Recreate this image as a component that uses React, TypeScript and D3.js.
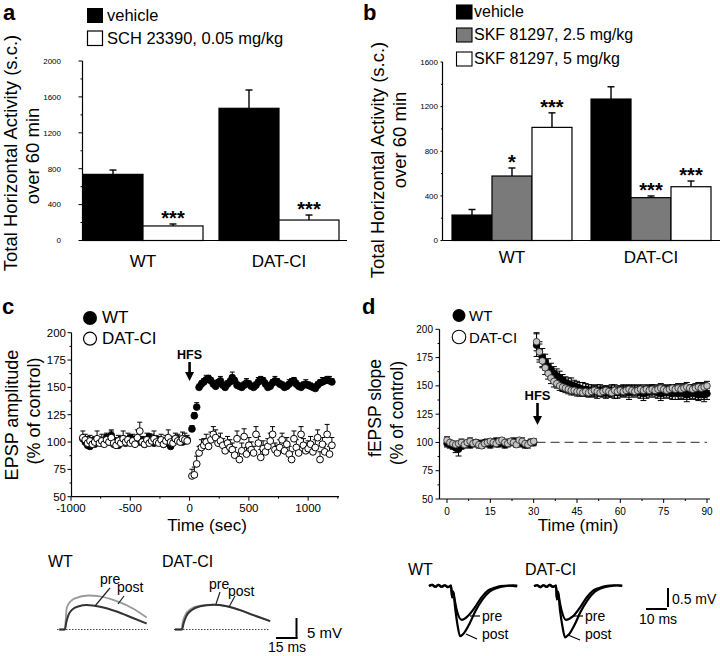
import React from 'react';
import * as d3 from 'd3';

const FONT = '"Liberation Sans", Arial, Helvetica, sans-serif';

// ---------------- Panel a ----------------
const groupsA = ['WT', 'DAT-CI'];
const vehicleA = [737, 1473];
const vehicleAErr = [48, 204];
const schA = [162, 228];
const schAErr = [22, 56];
const schASig = ['***', '***'];
const ticksA = [0, 400, 800, 1200, 1600, 2000];
const minorTicksA = [200, 600, 1000, 1400, 1800];

// ---------------- Panel b ----------------
const groupsB = ['WT', 'DAT-CI'];
const vehicleB = [228, 1268];
const vehicleBErr = [50, 110];
const skf25B = [578, 384];
const skf25BErr = [72, 15];
const skf25BSig = ['*', '***'];
const skf5B = [1014, 482];
const skf5BErr = [130, 51];
const skf5BSig = ['***', '***'];
const ticksB = [0, 400, 800, 1200, 1600];
const minorTicksB = [200, 600, 1000, 1400];

// ---------------- Panel c ----------------
const timeC = [
  -900, -880, -860, -840, -820, -800, -780, -760, -740, -720, -700, -680, -660, -640, -620,
  -600, -580, -560, -540, -520, -500, -480, -460, -440, -420, -400, -380, -360, -340, -320,
  -300, -280, -260, -240, -220, -200, -180, -160, -140, -120, -100, -80, -60, -40, -20,
  20, 40, 60, 80, 100, 120, 140, 160, 180, 200, 220, 240, 260, 280, 300,
  320, 340, 360, 380, 400, 420, 440, 460, 480, 500, 520, 540, 560, 580, 600,
  620, 640, 660, 680, 700, 720, 740, 760, 780, 800, 820, 840, 860, 880, 900,
  920, 940, 960, 980, 1000, 1020, 1040, 1060, 1080, 1100, 1120, 1140, 1160, 1180, 1200,
];
const wtC = [
  103, 100, 97, 96, 101, 98, 100, 102, 99, 101, 104, 100, 106, 98, 101,
  97, 100, 103, 99, 101, 104, 102, 99, 103, 100, 101, 98, 102, 105, 101,
  99, 103, 100, 101, 98, 99, 100, 96, 100, 102, 103, 102, 100, 101, 102,
  112, 124, 132, 150, 153, 155, 157, 158, 156, 153, 151, 154, 156, 152, 150,
  153, 155, 159, 156, 152, 151, 150, 152, 154, 153, 151, 150, 152, 155, 157,
  156, 153, 150, 151, 154, 156, 155, 153, 152, 150, 151, 153, 155, 156, 153,
  151, 150, 152, 153, 152, 151, 150, 149, 152, 154, 155, 156, 157, 156, 155,
];
const wtErrC = [
  2, 2, 3, 2, 2, 3, 2, 2, 4, 2, 3, 2, 4, 2, 2,
  2, 3, 2, 2, 4, 2, 3, 2, 2, 3, 2, 2, 3, 2, 2,
  3, 2, 2, 3, 2, 2, 2, 3, 2, 2, 2, 3, 2, 2, 2,
  3, 3, 4, 3, 3, 3, 4, 3, 3, 3, 3, 3, 4, 3, 3,
  3, 3, 5, 3, 3, 3, 3, 3, 4, 3, 3, 3, 3, 4, 3,
  3, 3, 3, 3, 3, 4, 3, 3, 3, 3, 3, 4, 3, 3, 3,
  3, 3, 3, 4, 3, 3, 3, 3, 3, 3, 4, 3, 3, 4, 3,
];
const datC = [
  104, 102, 99, 101, 98, 100, 103, 99, 101, 98, 102, 100, 104, 99, 97,
  101, 99, 103, 100, 102, 99, 101, 98, 104, 110, 100, 98, 102, 99, 101,
  103, 100, 99, 102, 98, 101, 104, 100, 99, 103, 101, 100, 103, 102, 101,
  69, 70, 80, 90, 95, 97, 100, 96, 102, 107, 104, 99, 101, 97, 92,
  99, 95, 93, 88, 103, 84, 92, 105, 89, 97, 93, 90, 107, 99, 86,
  94, 91, 96, 101, 107, 93, 90, 95, 102, 92, 98, 89, 84, 103, 95,
  90, 107, 97, 92, 94, 98, 91, 95, 104, 84, 98, 91, 107, 89, 97,
];
const datErrC = [
  3, 2, 3, 2, 3, 2, 4, 2, 3, 2, 3, 2, 4, 2, 3,
  2, 3, 4, 2, 3, 2, 3, 2, 4, 5, 2, 3, 3, 2, 3,
  4, 2, 3, 2, 3, 2, 4, 2, 3, 2, 3, 2, 3, 3, 2,
  3, 4, 4, 3, 4, 3, 4, 3, 4, 4, 4, 3, 4, 3, 4,
  3, 4, 3, 4, 4, 3, 4, 4, 3, 4, 4, 3, 4, 3, 4,
  4, 3, 4, 4, 4, 3, 4, 4, 3, 4, 3, 4, 4, 4, 4,
  3, 4, 3, 4, 4, 4, 3, 4, 4, 4, 3, 4, 6, 4, 4,
];
const ticksCY = [50, 75, 100, 125, 150, 175, 200];
const minorCY = [62.5, 87.5, 112.5, 137.5, 162.5, 187.5];
const ticksCX = [-1000, -500, 0, 500, 1000];
const minorCX = [-750, -250, 250, 750, 1250];

// ---------------- Panel d ----------------
const timeD = [
  0, 1, 2, 3, 4, 5, 6, 7, 8, 9, 10, 11, 12, 13, 14, 15, 16, 17, 18, 19, 20,
  21, 22, 23, 24, 25, 26, 27, 28, 29, 30,
  31, 32, 33, 34, 35, 36, 37, 38, 39, 40, 41, 42, 43, 44, 45, 46, 47, 48, 49, 50,
  51, 52, 53, 54, 55, 56, 57, 58, 59, 60, 61, 62, 63, 64, 65, 66, 67, 68, 69, 70,
  71, 72, 73, 74, 75, 76, 77, 78, 79, 80, 81, 82, 83, 84, 85, 86, 87, 88, 89, 90,
];
const wtD = [
  99, 98, 97, 95, 94, 97, 98, 99, 98, 99, 100, 99, 98, 100, 99, 98, 100, 101, 99, 100,
  98, 99, 100, 101, 99, 100, 99, 98, 99, 100, 100,
  186, 180, 175, 171, 167, 164, 161, 159, 157, 155, 153, 152, 151, 150, 149, 148, 147, 147, 146, 146,
  145, 145, 146, 145, 144, 145, 146, 145, 144, 145, 146, 145, 144, 145, 146, 145, 144, 143, 144, 145,
  146, 145, 144, 143, 144, 145, 144, 143, 144, 143, 144, 143, 142, 143, 144, 143, 142, 143, 142, 143,
];
const wtErrD = [
  3, 3, 3, 4, 6, 3, 3, 2, 3, 3, 2, 3, 3, 2, 3, 3, 2, 3, 3, 2,
  3, 3, 2, 3, 3, 2, 3, 3, 2, 3, 3,
  10, 9, 8, 7, 7, 6, 6, 6, 6, 5, 5, 5, 6, 5, 5, 5, 6, 5, 5, 5,
  5, 6, 5, 5, 5, 5, 5, 6, 5, 5, 5, 5, 6, 5, 5, 5, 5, 6, 5, 5,
  5, 5, 5, 6, 5, 5, 5, 5, 6, 5, 5, 5, 6, 5, 5, 5, 5, 5, 6, 5,
];
const datD = [
  102, 100, 99, 98, 99, 100, 98, 100, 101, 99, 100, 98, 97, 99, 100, 101, 100, 99, 101, 102,
  100, 99, 101, 100, 98, 102, 101, 99, 98, 100, 101,
  189, 180, 172, 166, 161, 157, 154, 152, 150, 149, 148, 147, 146, 146, 145, 145, 144, 145, 144, 145,
  146, 145, 144, 145, 146, 145, 144, 146, 145, 146, 145, 146, 147, 146, 145, 146, 147, 146, 147, 146,
  147, 146, 147, 148, 147, 146, 147, 148, 147, 148, 147, 148, 149, 148, 147, 148, 149, 148, 149, 150,
];
const datErrD = [
  3, 2, 2, 3, 2, 3, 2, 2, 3, 2, 2, 3, 2, 2, 3, 2, 2, 3, 2, 2,
  3, 2, 2, 3, 2, 2, 3, 2, 3, 2, 2,
  8, 7, 6, 6, 5, 5, 5, 4, 4, 4, 4, 4, 4, 4, 4, 4, 3, 4, 4, 4,
  4, 4, 3, 4, 4, 4, 4, 4, 3, 4, 4, 4, 4, 4, 3, 4, 4, 4, 4, 4,
  4, 3, 4, 4, 4, 4, 4, 3, 4, 4, 4, 4, 4, 3, 4, 4, 4, 4, 4, 4,
];
const ticksDY = [50, 75, 100, 125, 150, 175, 200];
const minorDY = [62.5, 87.5, 112.5, 137.5, 162.5, 187.5];
const ticksDX = [0, 15, 30, 45, 60, 75, 90];
const minorDX = [7.5, 22.5, 37.5, 52.5, 67.5, 82.5];
const hfsTimeD = 31;

// ---------------- Example traces (ms, mV) ----------------
const wtPreC = [[0, 0], [4, 0], [5, 1.8], [6.5, 3.6], [9, 4.9], [14, 5.8], [19.5, 6.1], [29, 5.7], [41, 4.5], [53, 2.8], [62.4, 1.5]];
const wtPostC = [[0, 0], [4, 0], [4.6, 2.5], [5.3, 5.4], [8, 7], [11.2, 7.8], [20.7, 8.5], [29, 8.3], [41, 7.1], [52.9, 5.2], [62.4, 3]];
const datPreC = [[0, 0], [5, 0], [6.2, 1.6], [8, 3.3], [12, 4.9], [18, 5.8], [27.4, 6.2], [36, 5.9], [46, 4.9], [56, 3.6], [68, 2.1]];
const datPostC = [[0, 0], [4.6, 0], [5.5, 1.8], [7.3, 3.6], [11, 5.1], [17, 5.9], [27, 6.2], [36, 5.9], [46, 4.9], [56, 3.6], [68, 2.1]];

const wtPreD = [[0, 0], [1.5, 0.03], [3, -0.02], [4.5, 0.03], [6, -0.02], [7.5, 0.02], [9, -0.03], [10.5, 0.01], [11, -0.3], [11.5, -0.15], [12.2, -0.35], [13.2, -0.63], [15.6, -0.89], [18.5, -0.79], [22, -0.55], [25, -0.3], [28, -0.12], [31, -0.05], [34, 0], [38, 0.01], [42, -0.01]];
const wtPostD = [[0, 0], [1.5, 0.03], [3, -0.02], [4.5, 0.03], [6, -0.02], [7.5, 0.02], [9, -0.03], [10.5, 0.01], [11, -0.3], [11.5, -0.15], [12.5, -0.6], [13.5, -1.0], [14.8, -1.32], [16.5, -1.25], [19.5, -0.97], [22, -0.67], [25.5, -0.35], [29, -0.14], [32.5, -0.05], [37, 0], [40, 0.02], [42, 0.01]];
const datPreD = [[0, 0], [1.5, 0.02], [3, -0.03], [4.5, 0.02], [6, -0.02], [7.5, 0.03], [9, -0.02], [10.5, 0.01], [10.9, -0.35], [11.4, -0.15], [12.2, -0.4], [13.2, -0.66], [15.2, -0.89], [18.5, -0.8], [22, -0.56], [25, -0.31], [28, -0.13], [31, -0.05], [34, 0], [38, 0.02], [42, 0]];
const datPostD = [[0, 0], [1.5, 0.02], [3, -0.03], [4.5, 0.02], [6, -0.02], [7.5, 0.03], [9, -0.02], [10.5, 0.01], [10.9, -0.35], [11.4, -0.15], [12.4, -0.65], [13.5, -1.05], [14.8, -1.35], [16.5, -1.28], [19.5, -1.0], [22, -0.7], [25.5, -0.37], [29, -0.15], [32.5, -0.05], [37, 0], [40, 0.02], [42, 0.01]];

// ---------------- helpers ----------------
type Series = { name: string; values: number[]; errs: number[]; sig: string[] | null; fill: string };

function Bars({ groups, series, xo, y }: { groups: string[]; series: Series[]; xo: d3.ScaleBand<string>; y: d3.ScaleLinear<number, number> }) {
  const xi = d3.scaleBand<string>().domain(series.map((s) => s.name)).range([0, xo.bandwidth()]);
  return (
    <g>
      {groups.map((g, gi) =>
        series.map((s) => {
          const x = (xo(g) as number) + (xi(s.name) as number);
          const w = xi.bandwidth();
          const v = s.values[gi];
          const e = s.errs[gi];
          const cx = x + w / 2;
          const yTop = y(v + e);
          return (
            <g key={g + s.name}>
              <line x1={cx} x2={cx} y1={y(v)} y2={yTop} stroke="#000" strokeWidth={1.4} />
              <line x1={cx - 3.5} x2={cx + 3.5} y1={yTop} y2={yTop} stroke="#000" strokeWidth={1.4} />
              <rect x={x} y={y(v)} width={w} height={y(0) - y(v)} fill={s.fill} stroke="#000" strokeWidth={1.2} />
              {s.sig && s.sig[gi] ? (
                <text x={cx} y={yTop + 1} textAnchor="middle" fontSize={20} fontWeight="bold">
                  {s.sig[gi]}
                </text>
              ) : null}
            </g>
          );
        })
      )}
    </g>
  );
}

function YAxis({ x, y, ticks, minor, labelEnd, fontSize, fmt, tickLen = 4, minorLen = 2 }: any) {
  const [r0, r1] = y.range();
  return (
    <g>
      <line x1={x} x2={x} y1={r0} y2={r1} stroke="#000" strokeWidth={1.2} />
      {ticks.map((t: number) => (
        <line key={'t' + t} x1={x - tickLen} x2={x} y1={y(t)} y2={y(t)} stroke="#000" strokeWidth={1} />
      ))}
      {minor.map((t: number) => (
        <line key={'m' + t} x1={x - minorLen} x2={x} y1={y(t)} y2={y(t)} stroke="#000" strokeWidth={1} />
      ))}
      {ticks.map((t: number) => (
        <text key={'l' + t} x={labelEnd} y={y(t)} dy="0.35em" textAnchor="end" fontSize={fontSize}>
          {fmt ? fmt(t) : t}
        </text>
      ))}
    </g>
  );
}

function XAxisLin({ y0, x, ticks, minor, x1, x2, fontSize, labelY, tickLen = 4, minorLen = 2 }: any) {
  return (
    <g>
      <line x1={x1} x2={x2} y1={y0} y2={y0} stroke="#000" strokeWidth={1.2} />
      {ticks.map((t: number) => (
        <line key={'t' + t} x1={x(t)} x2={x(t)} y1={y0} y2={y0 + tickLen} stroke="#000" strokeWidth={1} />
      ))}
      {minor.map((t: number) => (
        <line key={'m' + t} x1={x(t)} x2={x(t)} y1={y0} y2={y0 + minorLen} stroke="#000" strokeWidth={1} />
      ))}
      {ticks.map((t: number) => (
        <text key={'l' + t} x={x(t)} y={labelY} textAnchor="middle" fontSize={fontSize}>
          {t < 0 ? '-' + Math.abs(t) : t}
        </text>
      ))}
    </g>
  );
}

function RotText({ x, y, size, children }: any) {
  return (
    <text transform={`translate(${x},${y}) rotate(-90)`} textAnchor="middle" fontSize={size}>
      {children}
    </text>
  );
}

function Arrow({ x, y1, y2 }: { x: number; y1: number; y2: number }) {
  return (
    <g>
      <line x1={x} x2={x} y1={y1} y2={y2 - 7} stroke="#000" strokeWidth={2.6} />
      <polygon points={`${x - 4.5},${y2 - 9} ${x + 4.5},${y2 - 9} ${x},${y2}`} fill="#000" />
    </g>
  );
}

// ---------------- panels ----------------
function PanelA() {
  const y = d3.scaleLinear().domain([0, 2000]).range([240.5, 61]);
  const xo = d3.scaleBand<string>().domain(groupsA).range([83, 339]).paddingInner(0.1176).paddingOuter(0);
  const series: Series[] = [
    { name: 'vehicle', values: vehicleA, errs: vehicleAErr, sig: null, fill: '#000' },
    { name: 'SCH 23390, 0.05 mg/kg', values: schA, errs: schAErr, sig: schASig, fill: '#fff' },
  ];
  return (
    <g>
      <text x={3} y={20} fontSize={22} fontWeight="bold">a</text>
      <rect x={87} y={8} width={16} height={15} fill="#000" />
      <text x={107} y={21} fontSize={16.5}>{series[0].name}</text>
      <rect x={87.5} y={31} width={15} height={14.5} fill="#fff" stroke="#000" strokeWidth={1.2} />
      <text x={107} y={44} fontSize={16.5}>{series[1].name}</text>
      <Bars groups={groupsA} series={series} xo={xo} y={y} />
      <YAxis x={82.5} y={y} ticks={ticksA} minor={minorTicksA} labelEnd={61} fontSize={8} tickLen={4} minorLen={2} />
      <line x1={82.5} x2={347} y1={240.5} y2={240.5} stroke="#000" strokeWidth={1.2} />
      {groupsA.map((g) => (
        <text key={g} x={(xo(g) as number) + xo.bandwidth() / 2} y={267} textAnchor="middle" fontSize={17}>{g}</text>
      ))}
      <RotText x={16.5} y={153} size={18.5}>Total Horizontal Activity (s.c.)</RotText>
      <RotText x={39} y={156} size={18.5}>over 60 min</RotText>
    </g>
  );
}

function PanelB() {
  const y = d3.scaleLinear().domain([0, 1600]).range([240.5, 62]);
  const xo = d3.scaleBand<string>().domain(groupsB).range([452, 711]).paddingInner(0.137).paddingOuter(0);
  const series: Series[] = [
    { name: 'vehicle', values: vehicleB, errs: vehicleBErr, sig: null, fill: '#000' },
    { name: 'SKF 81297, 2.5 mg/kg', values: skf25B, errs: skf25BErr, sig: skf25BSig, fill: '#7a7a7a' },
    { name: 'SKF 81297, 5 mg/kg', values: skf5B, errs: skf5BErr, sig: skf5BSig, fill: '#fff' },
  ];
  const legY = [5, 28, 52];
  return (
    <g>
      <text x={363} y={20} fontSize={22} fontWeight="bold">b</text>
      {series.map((s, i) => (
        <g key={s.name}>
          <rect x={456.5} y={legY[i]} width={15.5} height={14} fill={s.fill} stroke="#000" strokeWidth={1.1} />
          <text x={474} y={legY[i] + 12} fontSize={16}>{s.name}</text>
        </g>
      ))}
      <Bars groups={groupsB} series={series} xo={xo} y={y} />
      <YAxis x={442.5} y={y} ticks={ticksB} minor={minorTicksB} labelEnd={438} fontSize={8} tickLen={2} minorLen={1.5} />
      <line x1={442.5} x2={720} y1={240.5} y2={240.5} stroke="#000" strokeWidth={1.2} />
      {groupsB.map((g) => (
        <text key={g} x={(xo(g) as number) + xo.bandwidth() / 2} y={263} textAnchor="middle" fontSize={17}>{g}</text>
      ))}
      <RotText x={384} y={160} size={18.5}>Total Horizontal Activity (s.c.)</RotText>
      <RotText x={406} y={140} size={18.5}>over 60 min</RotText>
    </g>
  );
}

function PanelC() {
  const x = d3.scaleLinear().domain([-1000, 1260]).range([71, 339]);
  const y = d3.scaleLinear().domain([50, 200]).range([496.7, 332.7]);
  const r = 3.4;
  return (
    <g>
      <text x={2} y={314} fontSize={22} fontWeight="bold">c</text>
      <circle cx={90} cy={318} r={7} fill="#000" />
      <text x={102} y={323} fontSize={17}>WT</text>
      <circle cx={90} cy={338.7} r={6.5} fill="#fff" stroke="#000" strokeWidth={1.2} />
      <text x={102} y={344} fontSize={17}>DAT-CI</text>
      <YAxis x={71.5} y={y} ticks={ticksCY} minor={minorCY} labelEnd={66} fontSize={11.5} />
      <XAxisLin y0={496.7} x={x} ticks={ticksCX} minor={minorCX} x1={71.5} x2={339} fontSize={11.5} labelY={512} />
      {timeC.map((t, i) => (
        <g key={'we' + i}>
          <line x1={x(t)} x2={x(t)} y1={y(wtC[i])} y2={y(wtC[i] + wtErrC[i])} stroke="#000" strokeWidth={1} />
          <line x1={x(t) - 2.5} x2={x(t) + 2.5} y1={y(wtC[i] + wtErrC[i])} y2={y(wtC[i] + wtErrC[i])} stroke="#000" strokeWidth={1} />
        </g>
      ))}
      {timeC.map((t, i) => (
        <circle key={'w' + i} cx={x(t)} cy={y(wtC[i])} r={r} fill="#000" stroke="#000" strokeWidth={0.8} />
      ))}
      {timeC.map((t, i) => (
        <g key={'de' + i}>
          <line x1={x(t)} x2={x(t)} y1={y(datC[i]) - r} y2={y(datC[i] + datErrC[i]) - r} stroke="#000" strokeWidth={1} />
          <line x1={x(t) - 2.5} x2={x(t) + 2.5} y1={y(datC[i] + datErrC[i]) - r} y2={y(datC[i] + datErrC[i]) - r} stroke="#000" strokeWidth={1} />
        </g>
      ))}
      {timeC.map((t, i) => (
        <circle key={'d' + i} cx={x(t)} cy={y(datC[i])} r={r} fill="#fff" stroke="#000" strokeWidth={1} />
      ))}
      <text x={x(0)} y={359} textAnchor="middle" fontSize={12.5} fontWeight="bold">HFS</text>
      <Arrow x={x(0)} y1={362} y2={381} />
      <RotText x={18} y={415} size={18}>EPSP amplitude</RotText>
      <RotText x={40} y={411} size={18}>(% of control)</RotText>
      <text x={207} y={531} textAnchor="middle" fontSize={17}>Time (sec)</text>
    </g>
  );
}

function PanelD() {
  const x = d3.scaleLinear().domain([0, 90]).range([447, 707]);
  const y = d3.scaleLinear().domain([50, 200]).range([499, 329.3]);
  const r = 3.3;
  return (
    <g>
      <text x={362} y={314} fontSize={22} fontWeight="bold">d</text>
      <circle cx={459} cy={315.5} r={6.5} fill="#000" />
      <text x={469} y={320.5} fontSize={15}>WT</text>
      <circle cx={459} cy={337} r={6.8} fill="#fff" stroke="#000" strokeWidth={1.1} />
      <text x={469} y={343} fontSize={15}>DAT-CI</text>
      <YAxis x={439.5} y={y} ticks={ticksDY} minor={minorDY} labelEnd={433} fontSize={10} />
      <XAxisLin y0={499} x={x} ticks={ticksDX} minor={minorDX} x1={439.5} x2={710} fontSize={10} labelY={515} />
      <line x1={x(hfsTimeD)} x2={x(90)} y1={y(100)} y2={y(100)} stroke="#555" strokeWidth={1.3} strokeDasharray="9 5" />
      {timeD.map((t, i) => (
        <g key={'we' + i}>
          <line x1={x(t)} x2={x(t)} y1={y(wtD[i] - wtErrD[i])} y2={y(wtD[i] + wtErrD[i])} stroke="#000" strokeWidth={1} />
          <line x1={x(t) - 3} x2={x(t) + 3} y1={y(wtD[i] + wtErrD[i])} y2={y(wtD[i] + wtErrD[i])} stroke="#000" strokeWidth={1} />
          <line x1={x(t) - 3} x2={x(t) + 3} y1={y(wtD[i] - wtErrD[i])} y2={y(wtD[i] - wtErrD[i])} stroke="#000" strokeWidth={1} />
          <line x1={x(t)} x2={x(t)} y1={y(datD[i] - datErrD[i])} y2={y(datD[i] + datErrD[i])} stroke="#000" strokeWidth={1} />
          <line x1={x(t) - 3} x2={x(t) + 3} y1={y(datD[i] + datErrD[i])} y2={y(datD[i] + datErrD[i])} stroke="#000" strokeWidth={1} />
          <line x1={x(t) - 3} x2={x(t) + 3} y1={y(datD[i] - datErrD[i])} y2={y(datD[i] - datErrD[i])} stroke="#000" strokeWidth={1} />
        </g>
      ))}
      {timeD.map((t, i) => (
        <circle key={'w' + i} cx={x(t)} cy={y(wtD[i])} r={r} fill="#000" stroke="#000" strokeWidth={0.8} />
      ))}
      {timeD.map((t, i) => (
        <circle key={'d' + i} cx={x(t)} cy={y(datD[i])} r={r} fill="#c4c4c4" stroke="#222" strokeWidth={0.8} />
      ))}
      <text x={537.5} y={400} textAnchor="middle" fontSize={13} fontWeight="bold">HFS</text>
      <Arrow x={537.5} y1={403} y2={425} />
      <RotText x={381} y={408} size={17.5}>fEPSP slope</RotText>
      <RotText x={403} y={413} size={17.5}>(% of control)</RotText>
      <text x={578} y={531} textAnchor="middle" fontSize={17}>Time (min)</text>
    </g>
  );
}

function Trace({ data, x0, base, pxPerMs, pxPerMv, color, width }: any) {
  const xs = d3.scaleLinear().domain([0, 1]).range([x0, x0 + pxPerMs]);
  const ys = d3.scaleLinear().domain([0, 1]).range([base, base - pxPerMv]);
  const line = d3
    .line<number[]>()
    .x((d) => xs(d[0]))
    .y((d) => ys(d[1]))
    .curve(d3.curveMonotoneX);
  return <path d={line(data) || ''} fill="none" stroke={color} strokeWidth={width} strokeLinejoin="round" />;
}

function TracesC() {
  const base = 629.5;
  const pxMs = 1.4;
  const pxMv = 4;
  return (
    <g>
      <text x={48} y={567} fontSize={16}>WT</text>
      <text x={162} y={567} fontSize={16}>DAT-CI</text>
      <line x1={57} x2={148} y1={base} y2={base} stroke="#444" strokeWidth={1} strokeDasharray="1.5 1.5" />
      <line x1={174} x2={270} y1={base} y2={base} stroke="#444" strokeWidth={1} strokeDasharray="1.5 1.5" />
      <Trace data={wtPostC} x0={59.3} base={base} pxPerMs={pxMs} pxPerMv={pxMv} color="#9a9a9a" width={1.8} />
      <Trace data={wtPreC} x0={59.3} base={base} pxPerMs={pxMs} pxPerMv={pxMv} color="#333" width={2} />
      <Trace data={datPostC} x0={175} base={base} pxPerMs={pxMs} pxPerMv={pxMv} color="#9a9a9a" width={1.8} />
      <Trace data={datPreC} x0={175} base={base} pxPerMs={pxMs} pxPerMv={pxMv} color="#333" width={2} />
      <text x={100} y={584} fontSize={14}>pre</text>
      <text x={117} y={592} fontSize={14}>post</text>
      <line x1={110} y1={588} x2={95} y2={606} stroke="#222" strokeWidth={1.2} />
      <line x1={124} y1={596} x2={118} y2={604} stroke="#222" strokeWidth={1.2} />
      <text x={209} y={589} fontSize={14}>pre</text>
      <text x={228} y={596} fontSize={14}>post</text>
      <line x1={220} y1={592} x2={216} y2={604} stroke="#222" strokeWidth={1.2} />
      <line x1={235} y1={596} x2={229} y2={607} stroke="#222" strokeWidth={1.2} />
      <line x1={296.5} x2={296.5} y1={618} y2={638.5} stroke="#000" strokeWidth={2} />
      <line x1={276} x2={297.5} y1={638} y2={638} stroke="#000" strokeWidth={2} />
      <text x={307} y={638} fontSize={15}>5 mV</text>
      <text x={268} y={652} fontSize={14}>15 ms</text>
    </g>
  );
}

function TracesD() {
  const base = 586;
  const pxMs = 2.1;
  const pxMv = 38;
  return (
    <g>
      <text x={408} y={575} fontSize={16}>WT</text>
      <text x={525} y={575} fontSize={16}>DAT-CI</text>
      <Trace data={wtPreD} x0={429} base={base} pxPerMs={pxMs} pxPerMv={pxMv} color="#000" width={2.2} />
      <Trace data={wtPostD} x0={429} base={base} pxPerMs={pxMs} pxPerMv={pxMv} color="#000" width={2.2} />
      <Trace data={datPreD} x0={534} base={base} pxPerMs={pxMs} pxPerMv={pxMv} color="#000" width={2.2} />
      <Trace data={datPostD} x0={534} base={base} pxPerMs={pxMs} pxPerMv={pxMv} color="#000" width={2.2} />
      <line x1={470} y1={616} x2={480} y2={616} stroke="#000" strokeWidth={1.2} />
      <line x1={466} y1={634} x2={477} y2={639} stroke="#000" strokeWidth={1.2} />
      <text x={482} y={621} fontSize={14}>pre</text>
      <text x={482} y={639} fontSize={14}>post</text>
      <line x1={573} y1={616} x2={583} y2={616} stroke="#000" strokeWidth={1.2} />
      <line x1={568} y1={635} x2={580} y2={640} stroke="#000" strokeWidth={1.2} />
      <text x={585} y={621} fontSize={14}>pre</text>
      <text x={585} y={639} fontSize={14}>post</text>
      <line x1={668} x2={668} y1={588} y2={607} stroke="#000" strokeWidth={2} />
      <line x1={646} x2={667} y1={609} y2={609} stroke="#000" strokeWidth={2} />
      <text x={672} y={604} fontSize={14}>0.5 mV</text>
      <text x={639} y={624} fontSize={14}>10 ms</text>
    </g>
  );
}

export default function App() {
  return (
    <svg
      width={720}
      height={656}
      viewBox="0 0 720 656"
      style={{ position: 'absolute', left: 0, top: 0, background: '#fff' }}
      fontFamily={FONT}
    >
      <rect width={720} height={656} fill="#fff" />
      <PanelA />
      <PanelB />
      <PanelC />
      <PanelD />
      <TracesC />
      <TracesD />
    </svg>
  );
}
